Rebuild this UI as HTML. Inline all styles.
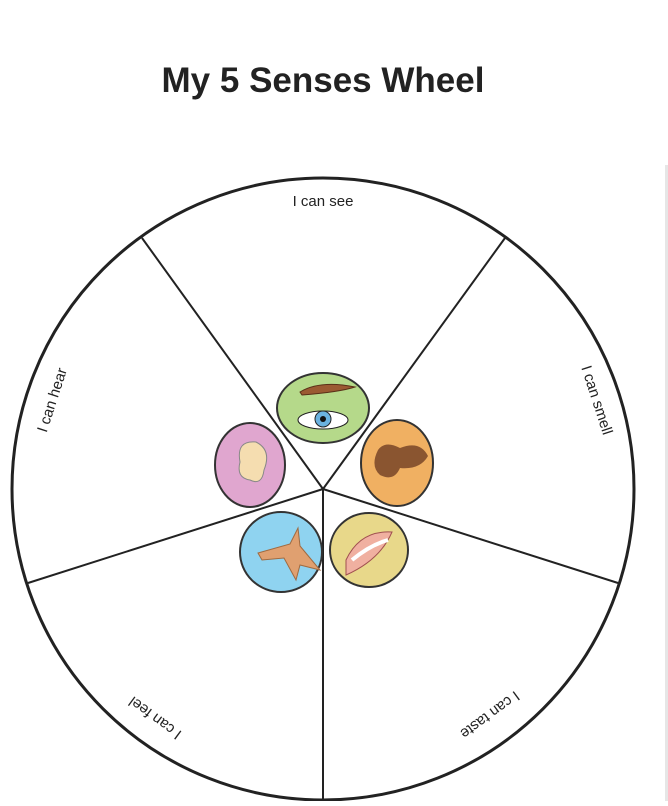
<!DOCTYPE html>
<html><head><meta charset="utf-8"><style>
body{margin:0;background:#fff;width:668px;height:801px;overflow:hidden}
</style></head><body>
<svg width="668" height="801" viewBox="0 0 668 801" xmlns="http://www.w3.org/2000/svg">
<rect x="665" y="165" width="3" height="636" fill="#e6e6e6"/>
<text x="323" y="92" text-anchor="middle" font-family="Liberation Sans, sans-serif" font-weight="bold" font-size="35" fill="#222">My 5 Senses Wheel</text>
<circle cx="323" cy="489" r="311" fill="none" stroke="#222" stroke-width="3"/>
<g stroke="#222" stroke-width="2">
<line x1="323" y1="489" x2="142" y2="238"/>
<line x1="323" y1="489" x2="505" y2="238"/>
<line x1="323" y1="489" x2="618" y2="583"/>
<line x1="323" y1="489" x2="323" y2="801"/>
<line x1="323" y1="489" x2="28" y2="583"/>
</g>
<g font-family="Liberation Sans, sans-serif" font-size="15" fill="#222" text-anchor="middle">
<text x="323" y="206">I can see</text>
<text transform="translate(597,400) rotate(72)" y="5">I can smell</text>
<text transform="translate(52,400) rotate(-72)" y="5">I can hear</text>
<text transform="translate(490,715) rotate(143.5)" y="5">I can taste</text>
<text transform="translate(155,718) rotate(-143.5)" y="5">I can feel</text>
</g>
<g stroke="#333" stroke-width="2">
<ellipse cx="323" cy="408" rx="46" ry="35" fill="#b5d98a"/>
<ellipse cx="250" cy="465" rx="35" ry="42" fill="#e0a6cf"/>
<ellipse cx="397" cy="463" rx="36" ry="43" fill="#f0b062"/>
<ellipse cx="281" cy="552" rx="41" ry="40" fill="#8fd3f0"/>
<ellipse cx="369" cy="550" rx="39" ry="37" fill="#e8d88a"/>
</g>
<path d="M300 392 Q320 380 355 387 Q340 392 302 395Z" fill="#9b5a32" stroke="#5a3018"/>
<ellipse cx="323" cy="420" rx="25" ry="9" fill="#fff" stroke="#222"/>
<circle cx="323" cy="419" r="8" fill="#6ab2e0" stroke="#222"/>
<circle cx="323" cy="419" r="3" fill="#111"/>
<path d="M240 462 Q236 440 256 442 Q272 450 264 470 Q262 486 250 480 Q236 478 240 462Z" fill="#f5ddb0" stroke="#888"/>
<path d="M378 450 Q385 440 400 448 Q420 440 428 456 Q420 470 400 468 Q394 482 380 475 Q370 466 378 450Z" fill="#8a5530"/>
<path d="M258 553 L290 544 L298 528 L300 546 L320 570 L300 565 L296 580 L284 558 L262 560Z" fill="#e0a070" stroke="#a06a40"/>
<path d="M346 560 Q360 530 392 532 Q380 560 346 575Z" fill="#f0b0a0" stroke="#a05050"/>
<path d="M352 560 Q370 545 388 540" stroke="#fff" stroke-width="4" fill="none"/>
</svg>
</body></html>
